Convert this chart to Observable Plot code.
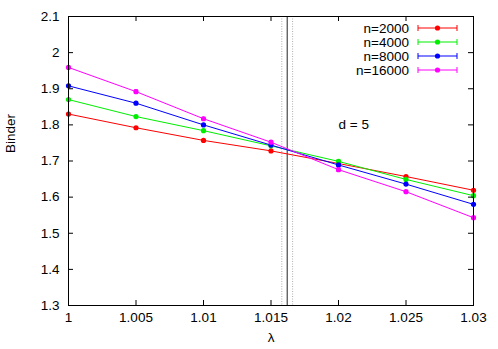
<!DOCTYPE html>
<html>
<head>
<meta charset="utf-8">
<script src="https://cdn.jsdelivr.net/npm/d3@7"></script>
<script src="https://cdn.jsdelivr.net/npm/@observablehq/plot@0.6"></script>
<style>
  html, body { margin: 0; padding: 0; background: #fff; }
  svg { display: block; }
</style>
</head>
<body>
<div id="chart"></div>
<script>
// ---- data ----
const lambdas = [1, 1.005, 1.01, 1.015, 1.02, 1.025, 1.03];
const seriesNames = ["n=2000", "n=4000", "n=8000", "n=16000"];
const seriesColors = ["#ff0000", "#00ee00", "#0000ff", "#ff00ff"];
const binder2000  = [1.830, 1.792, 1.757, 1.728, 1.693, 1.657, 1.619];
const binder4000  = [1.870, 1.823, 1.784, 1.742, 1.699, 1.649, 1.604];
const binder8000  = [1.908, 1.860, 1.800, 1.744, 1.689, 1.636, 1.580];
const binder16000 = [1.959, 1.892, 1.817, 1.752, 1.676, 1.615, 1.543];
const err2000  = [0.002, 0.002, 0.002, 0.002, 0.002, 0.002, 0.002];
const err4000  = [0.002, 0.002, 0.002, 0.002, 0.004, 0.002, 0.002];
const err8000  = [0.002, 0.002, 0.002, 0.003, 0.003, 0.002, 0.002];
const err16000 = [0.003, 0.005, 0.004, 0.004, 0.005, 0.003, 0.003];
const lambdaC = [1.0162];
const lambdaCBounds = [1.0158, 1.0166];
const xTicks = [1, 1.005, 1.01, 1.015, 1.02, 1.025, 1.03];
const xTickLabels = ["1", "1.005", "1.01", "1.015", "1.02", "1.025", "1.03"];
const yTicks = [1.3, 1.4, 1.5, 1.6, 1.7, 1.8, 1.9, 2.0, 2.1];
const yTickLabels = ["1.3", "1.4", "1.5", "1.6", "1.7", "1.8", "1.9", "2", "2.1"];
const annotation = {text: "d = 5", x: 1.02, y: 1.8};

const allSeries = [binder2000, binder4000, binder8000, binder16000];
const allErr = [err2000, err4000, err8000, err16000];
const rows = [];
allSeries.forEach((vals, si) => vals.forEach((v, i) => rows.push({
  lambda: lambdas[i], binder: v, lo: v - allErr[si][i], hi: v + allErr[si][i], series: seriesNames[si]
})));

const W = 498, H = 349;
const mL = 68, mR = 25, mT = 16, mB = 44;
const innerH = H - mT - mB;
const innerW = W - mL - mR;
const tk = 5;
const fs = 13.5;
const font = "Liberation Sans, Arial, Helvetica, sans-serif";

const capSymbol = {draw(ctx, size) { const w = Math.sqrt(size) / 2; ctx.moveTo(-w, 0); ctx.lineTo(w, 0); }};

const plot = Plot.plot({
  width: W, height: H,
  marginLeft: mL, marginRight: mR, marginTop: mT, marginBottom: mB,
  style: {fontFamily: font, fontSize: fs + "px", color: "#000", background: "#fff"},
  x: {domain: [1, 1.03]},
  y: {domain: [1.3, 2.1]},
  color: {domain: seriesNames, range: seriesColors},
  marks: [
    Plot.ruleX(lambdaCBounds, {stroke: "#999", strokeWidth: 0.8, strokeDasharray: "1,1.5"}),
    Plot.ruleX(lambdaC, {stroke: "#222", strokeWidth: 1}),
    Plot.line(rows, {x: "lambda", y: "binder", z: "series", stroke: "series", strokeWidth: 1}),
    Plot.ruleX(rows, {x: "lambda", y1: "lo", y2: "hi", stroke: "series", strokeWidth: 1}),
    Plot.dot(rows, {x: "lambda", y: "lo", stroke: "series", symbol: capSymbol, r: 2.2, strokeWidth: 1}),
    Plot.dot(rows, {x: "lambda", y: "hi", stroke: "series", symbol: capSymbol, r: 2.2, strokeWidth: 1}),
    Plot.dot(rows, {x: "lambda", y: "binder", fill: "series", r: 2.6, stroke: null}),
    Plot.text([annotation], {x: "x", y: "y", text: "text", textAnchor: "start", fontSize: fs}),
    // inward ticks, all four sides
    Plot.tickX(xTicks, {x: d => d, insetTop: innerH - tk, stroke: "#000"}),
    Plot.tickX(xTicks, {x: d => d, insetBottom: innerH - tk, stroke: "#000"}),
    Plot.tickY(yTicks, {y: d => d, insetRight: innerW - tk, stroke: "#000"}),
    Plot.tickY(yTicks, {y: d => d, insetLeft: innerW - tk, stroke: "#000"}),
    Plot.axisX({ticks: xTicks, tickFormat: d => xTickLabels[xTicks.indexOf(d)], tickSize: 0, tickPadding: 7, label: null, fontSize: fs}),
    Plot.axisY({ticks: yTicks, tickFormat: d => yTickLabels[yTicks.findIndex(t => Math.abs(t - d) < 1e-9)], tickSize: 0, tickPadding: 9, label: null, fontSize: fs}),
    Plot.text(["λ"], {frameAnchor: "bottom", dy: 36, fontSize: fs}),
    Plot.text(["Binder"], {frameAnchor: "left", dx: -58, dy: -8, rotate: -90, fontSize: fs}),
    Plot.frame({stroke: "#000", strokeWidth: 1})
  ]
});

document.getElementById("chart").append(plot);

// legend (gnuplot key, top right inside the frame)
const svg = d3.select(plot.tagName.toLowerCase() === "svg" ? plot : plot.querySelector("svg"));
const key = svg.append("g").attr("font-family", font).attr("font-size", fs);
const textRight = W - mR - 64, sx1 = W - mR - 55, sx2 = W - mR - 16, rowY0 = mT + 12, rowDy = 14;
seriesNames.forEach((name, i) => {
  const y = rowY0 + i * rowDy;
  key.append("text").attr("x", textRight).attr("y", y).attr("dy", "0.35em")
    .attr("text-anchor", "end").attr("fill", "#000").text(name);
  const c = seriesColors[i];
  key.append("line").attr("x1", sx1).attr("x2", sx2).attr("y1", y).attr("y2", y).attr("stroke", c);
  key.append("line").attr("x1", sx1).attr("x2", sx1).attr("y1", y - 3).attr("y2", y + 3).attr("stroke", c);
  key.append("line").attr("x1", sx2).attr("x2", sx2).attr("y1", y - 3).attr("y2", y + 3).attr("stroke", c);
  key.append("circle").attr("cx", (sx1 + sx2) / 2).attr("cy", y).attr("r", 2.6).attr("fill", c);
});
</script>
</body>
</html>
